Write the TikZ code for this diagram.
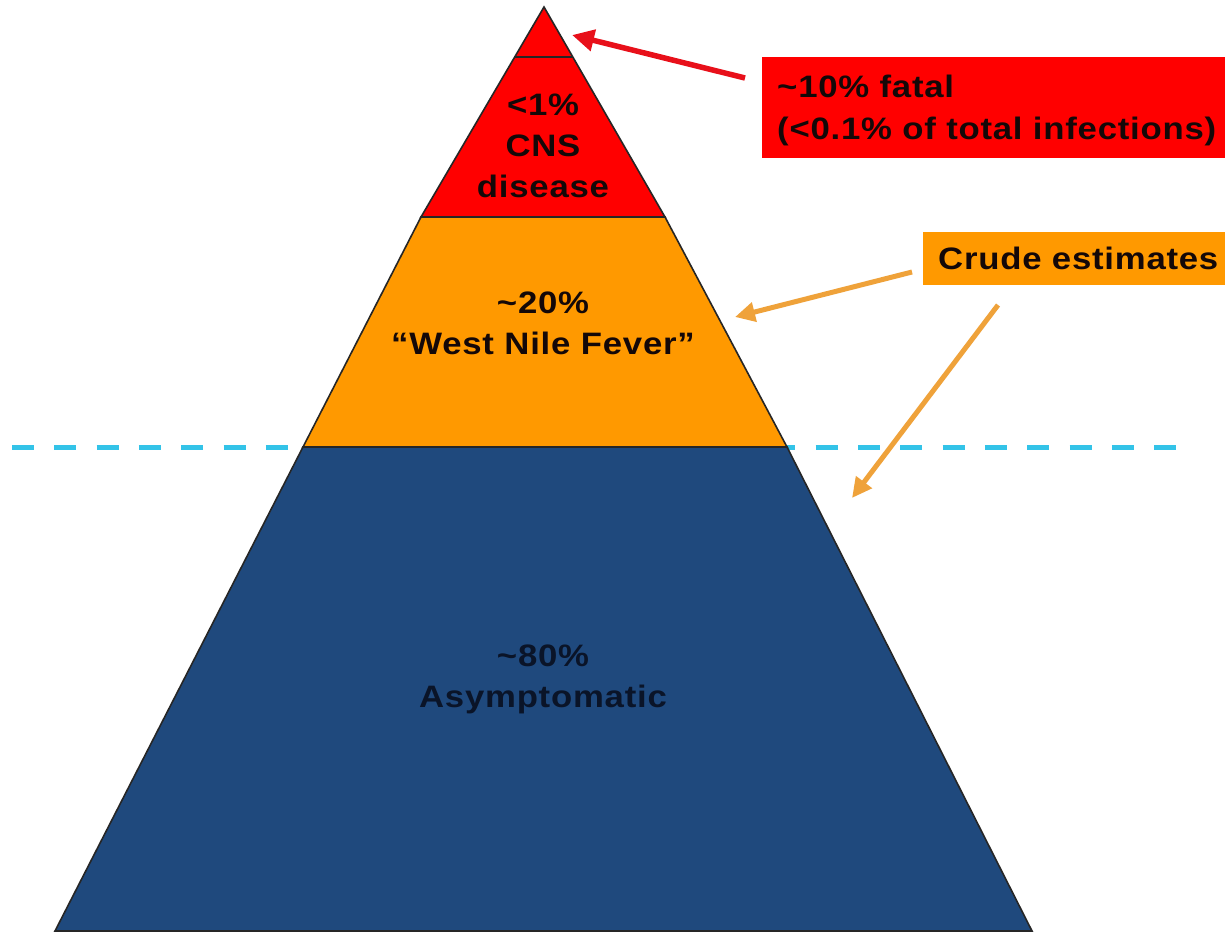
\documentclass[tikz,border=0pt]{standalone}
\usepackage{fontspec}
\setmainfont{Liberation Sans}[FakeStretch=1.12,LetterSpace=2.5]
\usetikzlibrary{arrows.meta,calc}
\definecolor{pred}{HTML}{FF0000}
\definecolor{porange}{HTML}{FF9900}
\definecolor{pblue}{HTML}{1F497D}
\definecolor{pdash}{HTML}{33C3E8}
\definecolor{parrowo}{HTML}{EFA23A}
\definecolor{parrowr}{HTML}{E8101A}
\definecolor{ptext}{HTML}{140808}
\definecolor{pbtext}{HTML}{0A1428}
\begin{document}
\begin{tikzpicture}[x=1pt,y=-1pt,
  layer/.style={draw=black!85,line width=1.6pt,line join=miter},
  lab/.style={font=\fontsize{31}{41}\selectfont\bfseries,text=ptext,align=center,inner sep=0pt},
  callout/.style={font=\fontsize{31}{42}\selectfont\bfseries,text=ptext,align=left,anchor=north west,inner xsep=15pt},
  dashline/.style={pdash,line width=5pt,dash pattern=on 22pt off 20.3pt},
  redarrow/.style={parrowr,line width=5.5pt,-{Triangle[length=22pt,width=21pt]}},
  orangearrow/.style={parrowo,line width=5pt,-{Triangle[length=20pt,width=19pt]}}]
\useasboundingbox (0,0) rectangle (1225,932);
\fill[white] (0,0) rectangle (1225,932);
\clip (0,0) rectangle (1225,932);
% pyramid corners
\coordinate (A) at (544,7);
\coordinate (L1) at (421,217);
\coordinate (R1) at (665,217);
\coordinate (L2) at (303,447);
\coordinate (R2) at (787,447);
\coordinate (L3) at (55,931);
\coordinate (R3) at (1032,931);
% water line
\coordinate (dl) at (12,447);
\coordinate (dr) at (1178,447);
\draw[dashline] (dl) -- (dr);
% layers
\filldraw[layer,fill=pblue] (L2) -- (R2) -- (R3) -- (L3) -- cycle;
\filldraw[layer,fill=porange] (L1) -- (R1) -- (R2) -- (L2) -- cycle;
\filldraw[layer,fill=pred] (A) -- (R1) -- (L1) -- cycle;
\draw[black!85,line width=1.3pt] ($(A)!0.238!(L1)$) -- ($(A)!0.238!(R1)$);
% labels
\node[lab] (cns) at (543,146) {<1\%\\CNS\\disease};
\node[lab] (wnf) at (543,323) {\textasciitilde20\%\\“West Nile Fever”};
\node[lab,text=pbtext] (asym) at (543,679) {\textasciitilde80\%\\Asymptomatic};
% callouts
\node[callout,fill=pred,text width=450pt,minimum height=101pt,inner ysep=12pt] (fatal) at (762,57)
  {\rule{0pt}{28.5pt}\textasciitilde10\% fatal\\(<0.1\% of total infections)};
\node[callout,fill=porange,text width=290pt,minimum height=53pt,inner ysep=0pt] (crude) at (923,232)
  {Crude estimates};
% arrows
\coordinate (rtail) at (745,78);
\coordinate (rtip) at (572,35);
\coordinate (o1tail) at (912,272);
\coordinate (o1tip) at (735,317);
\coordinate (o2tail) at (998,305);
\coordinate (o2tip) at (852,498);
\draw[redarrow] (rtail) -- (rtip);
\draw[orangearrow] (o1tail) -- (o1tip);
\draw[orangearrow] (o2tail) -- (o2tip);
\end{tikzpicture}
\end{document}
